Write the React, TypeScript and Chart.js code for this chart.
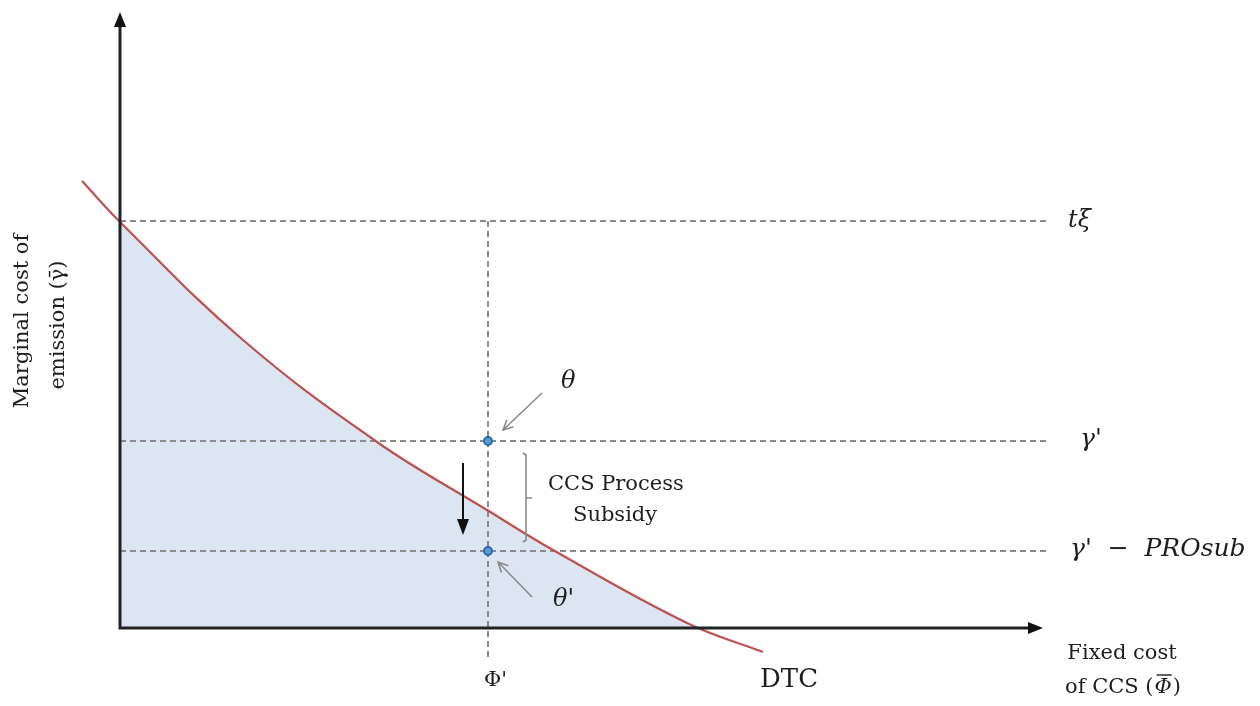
import { useEffect, useRef } from "react";
import { Chart, registerables } from "chart.js";

Chart.register(...registerables);

// DTC curve (fixed cost of CCS vs marginal cost of emission)
const curveX = [-3.8, 0, 12.3, 25.7, 36.7, 43.3, 56.7, 64.3];
const curveY = [44.7, 40.6, 28.8, 18.6, 11.8, 7.8, 0.5, -2.4];

// reference levels
const tXi = 40.7;
const gammaPrime = 18.7;
const gammaSub = 7.7;
const phiPrime = 36.8;
const levelEnd = 92.7;
const phiLineBottom = -3.2;

// axes extents
const xAxisEnd = 92.3;
const yAxisTop = 61.6;

const serif = '"DejaVu Serif", "Liberation Serif", serif';

export default function App() {
  const ref = useRef<HTMLCanvasElement | null>(null);

  useEffect(() => {
    if (!ref.current) return;
    const curve = curveX.map((x, i) => ({ x, y: curveY[i] }));
    const dashColor = "#8a8a8a";
    const dash = [6, 4];

    const overlay = {
      id: "overlay",
      afterDatasetsDraw(chart: any) {
        const ctx = chart.ctx as CanvasRenderingContext2D;
        const xs = chart.scales.x;
        const ys = chart.scales.y;
        const X = (v: number) => xs.getPixelForValue(v);
        const Y = (v: number) => ys.getPixelForValue(v);
        ctx.save();
        // axes
        ctx.strokeStyle = "#222";
        ctx.fillStyle = "#111";
        ctx.lineWidth = 3;
        ctx.beginPath();
        ctx.moveTo(X(0), Y(0));
        ctx.lineTo(X(0), Y(yAxisTop) + 12);
        ctx.moveTo(X(0) - 1.5, Y(0));
        ctx.lineTo(X(xAxisEnd) - 12, Y(0));
        ctx.stroke();
        // arrowheads
        ctx.beginPath();
        ctx.moveTo(X(0), Y(yAxisTop));
        ctx.lineTo(X(0) - 6, Y(yAxisTop) + 15);
        ctx.lineTo(X(0) + 6, Y(yAxisTop) + 15);
        ctx.closePath();
        ctx.fill();
        ctx.beginPath();
        ctx.moveTo(X(xAxisEnd), Y(0));
        ctx.lineTo(X(xAxisEnd) - 15, Y(0) - 6);
        ctx.lineTo(X(xAxisEnd) - 15, Y(0) + 6);
        ctx.closePath();
        ctx.fill();

        // gray pointer arrows
        const openArrow = (x1: number, y1: number, x2: number, y2: number) => {
          const ax = X(x1), ay = Y(y1), bx = X(x2), by = Y(y2);
          const ang = Math.atan2(by - ay, bx - ax);
          ctx.beginPath();
          ctx.moveTo(ax, ay);
          ctx.lineTo(bx, by);
          ctx.moveTo(bx - 11 * Math.cos(ang - 0.45), by - 11 * Math.sin(ang - 0.45));
          ctx.lineTo(bx, by);
          ctx.lineTo(bx - 11 * Math.cos(ang + 0.45), by - 11 * Math.sin(ang + 0.45));
          ctx.stroke();
        };
        ctx.strokeStyle = "#8a8a8a";
        ctx.lineWidth = 1.6;
        openArrow(42.2, 23.5, 38.3, 19.8);
        openArrow(41.2, 3.1, 37.8, 6.6);

        // bracket
        const bx = X(40.6);
        ctx.beginPath();
        ctx.moveTo(bx - 3, Y(17.5));
        ctx.lineTo(bx, Y(17.5) + 2);
        ctx.lineTo(bx, Y(8.6) - 2);
        ctx.lineTo(bx - 3, Y(8.6));
        ctx.moveTo(bx, Y(13));
        ctx.lineTo(bx + 6, Y(13));
        ctx.stroke();

        // down arrow
        ctx.strokeStyle = "#111";
        ctx.lineWidth = 2;
        const dx = X(34.3);
        ctx.beginPath();
        ctx.moveTo(dx, Y(16.5));
        ctx.lineTo(dx, Y(9.3) - 12);
        ctx.stroke();
        ctx.beginPath();
        ctx.moveTo(dx, Y(9.3));
        ctx.lineTo(dx - 6, Y(9.3) - 16);
        ctx.lineTo(dx + 6, Y(9.3) - 16);
        ctx.closePath();
        ctx.fill();

        // texts
        ctx.fillStyle = "#1e1e1e";
        ctx.textBaseline = "middle";
        const text = (s: string, x: number, y: number, font: string, align: CanvasTextAlign = "left") => {
          ctx.font = font;
          ctx.textAlign = align;
          ctx.fillText(s, X(x), Y(y));
        };
        const it = `italic 24px ${serif}`;
        const rm = `21px ${serif}`;
        text("tξ", 94.8, 40.7, it);
        text("γ'", 96.0, 18.9, `italic 25px ${serif}`);
        text("γ'  −  PROsub", 95.0, 7.9, `italic 25px ${serif}`);
        text("θ", 44.1, 24.6, it);
        text("θ'", 43.3, 2.8, it);
        text("CCS Process", 42.8, 14.3, rm);
        text("Subsidy", 45.3, 11.2, rm);
        text("Φ'", 36.4, -5.3, rm);
        text("DTC", 64.0, -5.2, `26px ${serif}`);
        text("Fixed cost", 100.2, -2.6, rm, "center");
        // "of CCS (Φ̄)" with a drawn overline on Φ
        ctx.font = rm;
        ctx.textAlign = "left";
        const s1 = "of CCS (";
        const s2 = "Φ";
        const s3 = ")";
        const w1 = ctx.measureText(s1).width;
        ctx.font = `italic 21px ${serif}`;
        const w2 = ctx.measureText(s2).width;
        ctx.font = rm;
        const w3 = ctx.measureText(s3).width;
        const total = w1 + w2 + w3 + 2;
        let cx = X(100.3) - total / 2;
        const cy = Y(-6.0);
        ctx.fillText(s1, cx, cy);
        cx += w1;
        ctx.font = `italic 21px ${serif}`;
        ctx.fillText(s2, cx + 1, cy);
        ctx.strokeStyle = "#1e1e1e";
        ctx.lineWidth = 1.4;
        ctx.beginPath();
        ctx.moveTo(cx + 3, cy - 13);
        ctx.lineTo(cx + w2 + 1, cy - 13);
        ctx.stroke();
        cx += w2 + 2;
        ctx.font = rm;
        ctx.fillText(s3, cx, cy);

        // rotated y label
        ctx.save();
        ctx.translate(X(-9.7), Y(30.7));
        ctx.rotate(-Math.PI / 2);
        ctx.font = rm;
        ctx.textAlign = "center";
        ctx.fillText("Marginal cost of", 0, 0);
        ctx.restore();
        ctx.save();
        ctx.translate(X(-6.1), Y(30.3));
        ctx.rotate(-Math.PI / 2);
        ctx.font = rm;
        ctx.textAlign = "center";
        ctx.fillText("emission (γ̄)", 0, 0);
        ctx.restore();

        ctx.restore();
      },
    };

    const hline = (y: number) => [
      { x: 0, y },
      { x: levelEnd, y },
    ];
    const dashed = (label: string, data: any[]) => ({
      label,
      data,
      showLine: true,
      borderColor: dashColor,
      borderWidth: 2,
      borderDash: dash,
      pointRadius: 0,
      clip: false,
      order: 5,
    });

    const chart = new Chart(ref.current, {
      type: "scatter",
      data: {
        datasets: [
          {
            label: "fill",
            data: curve,
            showLine: true,
            borderWidth: 0,
            borderColor: "rgba(0,0,0,0)",
            backgroundColor: "#dce6f2",
            fill: { target: "origin", above: "#dce6f2", below: "rgba(0,0,0,0)" },
            pointRadius: 0,
            tension: 0.4,
            order: 10,
          },
          dashed("tξ", hline(tXi)),
          dashed("γ′", hline(gammaPrime)),
          dashed("γ′ − PROsub", hline(gammaSub)),
          dashed("Φ′", [
            { x: phiPrime, y: tXi },
            { x: phiPrime, y: phiLineBottom },
          ]),
          {
            label: "DTC",
            data: curve,
            showLine: true,
            borderColor: "#c0504d",
            borderWidth: 2.2,
            pointRadius: 0,
            fill: false,
            tension: 0.4,
            clip: false,
            order: 2,
          },
          {
            label: "θ",
            data: [
              { x: phiPrime, y: gammaPrime },
              { x: phiPrime, y: gammaSub },
            ],
            showLine: false,
            pointRadius: 4,
            pointBackgroundColor: "#5b9bd5",
            pointBorderColor: "#2e6aa8",
            pointBorderWidth: 2,
            clip: false,
            order: 1,
          },
        ],
      },
      options: {
        animation: false,
        responsive: true,
        maintainAspectRatio: false,
        layout: { padding: { left: 120, right: 0, top: 0, bottom: 0 }, autoPadding: false },
        plugins: {
          legend: { display: false },
          tooltip: { enabled: false },
        },
        scales: {
          x: { type: "linear", min: 0, max: 114, display: false },
          y: { type: "linear", min: -7.8, max: 62.8, display: false },
        },
      },
      plugins: [overlay],
    });
    return () => chart.destroy();
  }, []);

  return (
    <div style={{ position: "fixed", left: 0, top: 0, width: 1260, height: 706, background: "#fff" }}>
      <canvas ref={ref} />
    </div>
  );
}
